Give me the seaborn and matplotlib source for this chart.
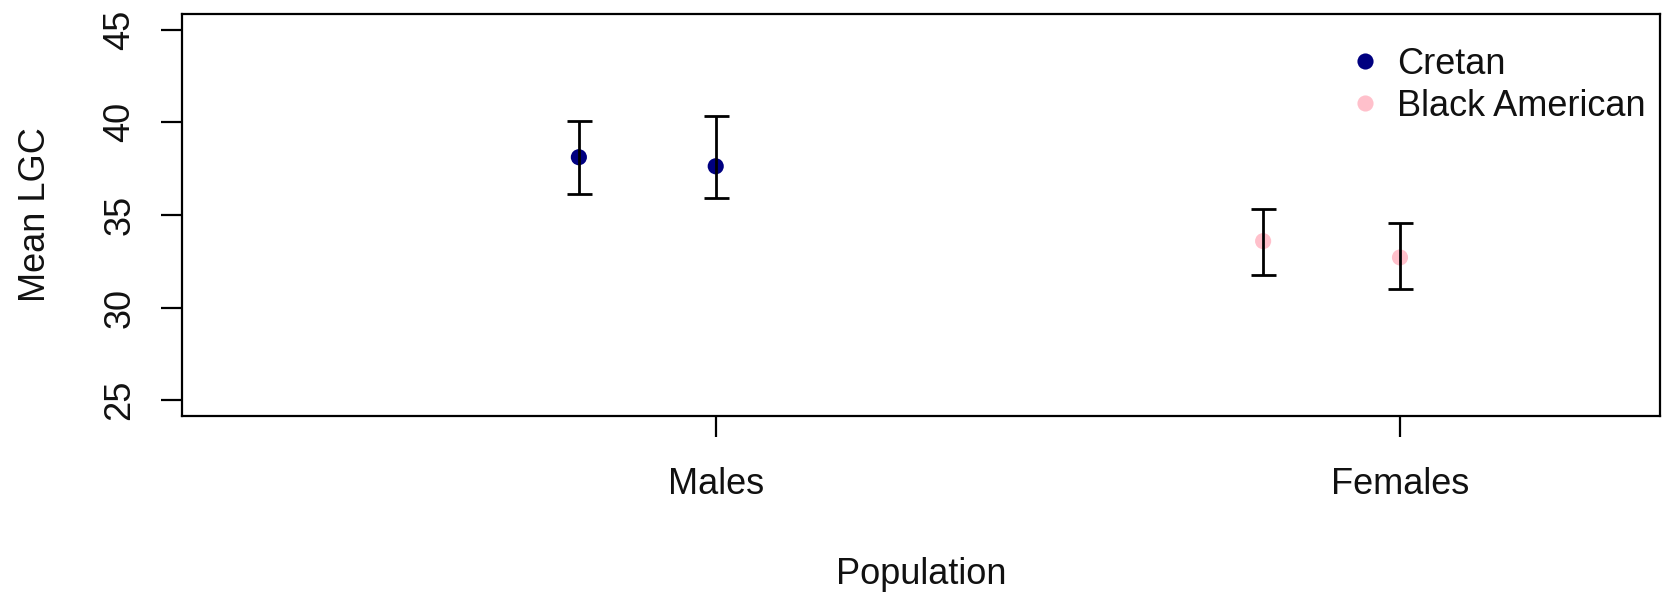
import matplotlib
matplotlib.use("Agg")
import matplotlib.pyplot as plt
import seaborn as sns
import pandas as pd

# ---- data ----
population = ["Males", "Males", "Females", "Females"]
group = ["Cretan", "Cretan", "Black American", "Black American"]
mean_lgc = [38.12, 37.63, 33.59, 32.71]
ci_low = [36.15, 35.90, 31.74, 31.00]
ci_high = [40.10, 40.35, 35.31, 34.55]
categories = ["Males", "Females"]
group_order = ["Cretan", "Black American"]
yticks = [25, 30, 35, 40, 45]

# ---- style ----
palette = {"Cretan": "#000080", "Black American": "#FFC0CB"}
dodge = [-0.2, 0.0, -0.2, 0.0]
FS = 26

sns.set_theme(style="white")
plt.rcParams["font.family"] = ["Liberation Sans", "DejaVu Sans"]

cat_pos = {c: i + 1 for i, c in enumerate(categories)}
df = pd.DataFrame({
    "population": population,
    "group": group,
    "mean": mean_lgc,
    "low": ci_low,
    "high": ci_high,
})
df["x"] = [cat_pos[p] + d for p, d in zip(df["population"], dodge)]

fig = plt.figure(figsize=(16.63, 5.95), dpi=100)
ax = fig.add_axes([182 / 1663, 1 - 416 / 595, (1660 - 182) / 1663, (416 - 14) / 595])

sns.scatterplot(data=df, x="x", y="mean", hue="group", hue_order=group_order,
                palette=palette, s=135, linewidth=0, ax=ax, zorder=2)
ax.errorbar(df["x"], df["mean"], yerr=[df["mean"] - df["low"], df["high"] - df["mean"]],
            fmt="none", ecolor="black", elinewidth=2.0, capsize=9, capthick=2.0, zorder=3)

ax.set_xlim(0.22, 2.38)
ax.set_ylim(24.15, 45.85)
ax.set_xticks([cat_pos[c] for c in categories])
ax.set_xticklabels(categories)
ax.set_yticks(yticks)
ax.set_yticklabels([str(v) for v in yticks], rotation=90, va="center")

for s in ax.spines.values():
    s.set_visible(True)
    s.set_color("black")
    s.set_linewidth(1.6)

ax.tick_params(axis="both", which="major", direction="out", length=15, width=1.6,
               color="black", labelsize=FS, labelcolor="#111111", left=True, bottom=True)
ax.tick_params(axis="x", pad=22)
ax.tick_params(axis="y", pad=17)

ax.set_xlabel("Population", fontsize=FS, color="#111111", va="center")
ax.xaxis.set_label_coords(0.5, (416 - 575) / 402)
ax.set_ylabel("Mean LGC", fontsize=FS, color="#111111", va="center")
ax.yaxis.set_label_coords((36 - 182) / 1478, 0.5)

handles, labels = ax.get_legend_handles_labels()
ax.legend(handles=handles, labels=labels, loc="upper left",
          bbox_to_anchor=((1348 - 182) / 1478, (416 - 47) / 402),
          frameon=False, fontsize=FS, handlelength=0.96, handletextpad=0.40,
          borderpad=0, borderaxespad=0, labelspacing=0.18, markerscale=1.0)
for t in ax.get_legend().get_texts():
    t.set_color("#111111")

fig.savefig("out.png", dpi=100)
